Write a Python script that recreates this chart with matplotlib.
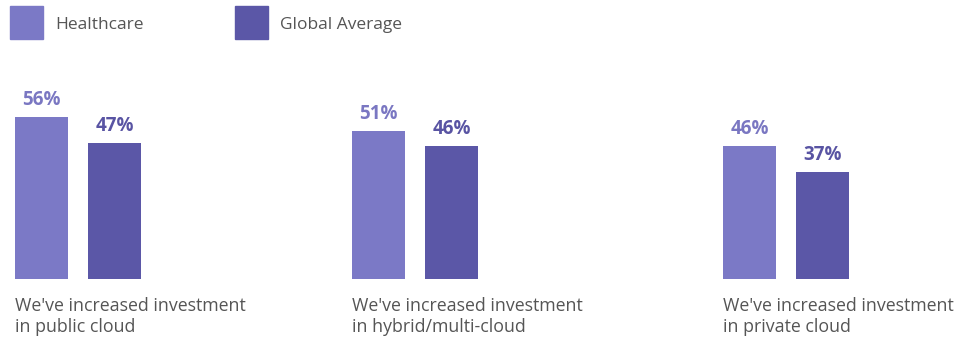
import matplotlib.pyplot as plt
from matplotlib.patches import Rectangle

# datos de la encuesta
categorias = ["We've increased investment\nin public cloud",
              "We've increased investment\nin hybrid/multi-cloud",
              "We've increased investment\nin private cloud"]
series = ["Healthcare", "Global Average"]
healthcare = [56, 51, 46]
global_avg = [47, 46, 37]

colores = ["#7b79c6", "#5b57a7"]
colores_txt = ["#7a77c2", "#5954a3"]

W, H = 958, 338
fig = plt.figure(figsize=(W / 100, H / 100), dpi=100)
plt.rcParams['font.family'] = ['Open Sans', 'DejaVu Sans']

# eje en pixeles horizontales, porcentaje en vertical
base = 59
ax = fig.add_axes([0, base / H, 1, 174 / H])
ax.set_xlim(0, W)
ax.set_ylim(0, 60)
ax.axis("off")

inicio_grupo = [15, 352, 723]
ancho = 53
separacion = 73

for i, (vals, col, ctxt) in enumerate(zip([healthcare, global_avg], colores, colores_txt)):
    xs = [g + i * separacion + ancho / 2 for g in inicio_grupo]
    barras = ax.bar(xs, vals, width=ancho, color=col)
    for b, v in zip(barras, vals):
        ax.annotate(f"{v}%", (b.get_x() + b.get_width() / 2, v),
                    xytext=(0, 5), textcoords="offset points",
                    ha="center", va="bottom", fontsize=13.5,
                    fontweight="bold", color=ctxt)

for g, cat in zip(inicio_grupo, categorias):
    fig.text(g / W, 1 - 297 / H, cat, ha="left", va="top",
             fontsize=12.8, color="#555555", linespacing=1.22)

# leyenda manual
for x0, nombre, col in zip([10, 235], series, colores):
    fig.add_artist(Rectangle((x0 / W, 1 - 39 / H), 33 / W, 33 / H,
                             transform=fig.transFigure, color=col))
    fig.text((x0 + 45) / W, 1 - 25 / H, nombre, ha="left", va="center",
             fontsize=12.5, color="#555555")

fig.savefig("out.png", dpi=100)
